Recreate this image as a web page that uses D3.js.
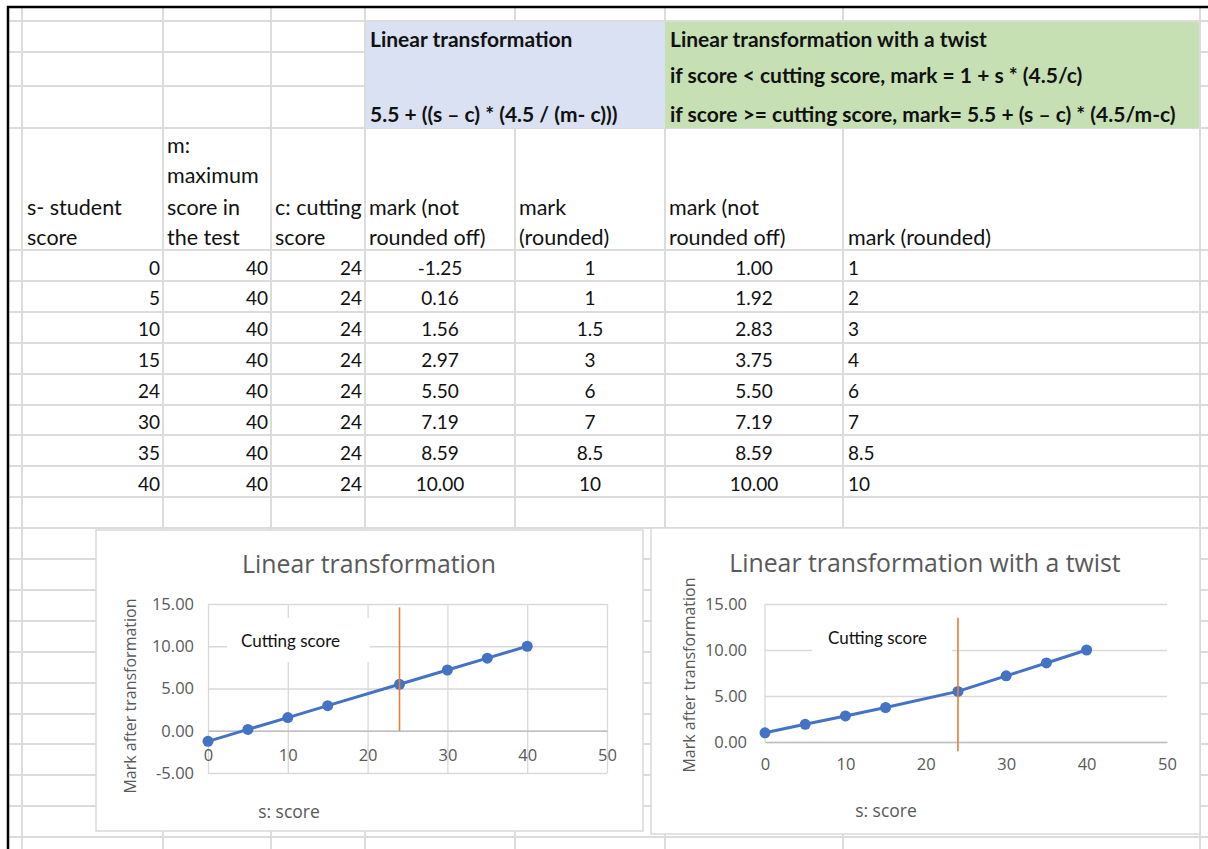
<!DOCTYPE html>
<html>
<head>
<meta charset="utf-8">
<script src="https://cdn.jsdelivr.net/npm/d3@7"></script>
<style>
  body { margin: 0; background: #fff; }
  svg { display: block; }
  .cell { font-family: Lato, "Liberation Sans", sans-serif; font-size: 21.5px; fill: #111; }
  .cell-b { font-weight: bold; font-size: 21px; }
  .cell-n { font-size: 19px; }
  .chart-txt { font-family: "Open Sans", "Noto Sans", sans-serif; fill: #595959; }
</style>
</head>
<body>
<div id="sheet"></div>
<script>
// table data
const scores = [0, 5, 10, 15, 24, 30, 35, 40];
const maxScores = [40, 40, 40, 40, 40, 40, 40, 40];
const cutScores = [24, 24, 24, 24, 24, 24, 24, 24];
const markLinear = [-1.25, 0.16, 1.56, 2.97, 5.50, 7.19, 8.59, 10.00];
const markLinearRounded = ["1", "1", "1.5", "3", "6", "7", "8.5", "10"];
const markTwist = [1.00, 1.92, 2.83, 3.75, 5.50, 7.19, 8.59, 10.00];
const markTwistRounded = ["1", "2", "3", "4", "6", "7", "8.5", "10"];

// chart data
const cutScore = 24;
const cutLine1 = [0, 14.6];
const cutLine2 = [-1, 13.5];
const xTicks = [0, 10, 20, 30, 40, 50];
const yTicks1 = [-5, 0, 5, 10, 15];
const yTicks2 = [0, 5, 10, 15];

const W = 1208, H = 849;
const colX = [8, 22, 163, 271, 365, 515, 665, 843, 1200, 1208];
const rowY = [7, 21, 52, 86, 128, 250];
for (let i = 1; i <= 19; i++) rowY.push(Math.round(250 + i * 30.9));
rowY.push(H);

// excel style numbers: plain hyphen instead of unicode minus
const f2 = v => d3.format(".2f")(v).replace("\u2212", "-");

const svg = d3.select("#sheet").append("svg")
  .attr("width", W)
  .attr("height", H);

svg.append("rect").attr("width", W).attr("height", H).attr("fill", "#fff");

// spreadsheet grid
const grid = svg.append("g").attr("stroke", "#dcdcdc").attr("stroke-width", 2);
grid.selectAll(".vl").data(colX.slice(1, -1)).enter().append("line")
  .attr("x1", d => d).attr("x2", d => d)
  .attr("y1", 7).attr("y2", H);
grid.selectAll(".hl").data(rowY.slice(1, -1)).enter().append("line")
  .attr("x1", 8).attr("x2", W)
  .attr("y1", d => d).attr("y2", d => d);

// header fills
svg.append("rect").attr("x", 366).attr("y", 22).attr("width", 299).attr("height", 106).attr("fill", "#d9e1f2");
svg.append("rect").attr("x", 665).attr("y", 22).attr("width", 534).attr("height", 106).attr("fill", "#c6e0b4");

// black outer border
svg.append("line").attr("x1", 7).attr("x2", W).attr("y1", 7).attr("y2", 7).attr("stroke", "#000").attr("stroke-width", 2.5);
svg.append("line").attr("x1", 8).attr("x2", 8).attr("y1", 6).attr("y2", H).attr("stroke", "#000").attr("stroke-width", 2.5);

function cell(x, y, txt, anchor, cls) {
  svg.append("text")
    .attr("class", "cell" + (cls ? " " + cls : ""))
    .attr("x", x).attr("y", y)
    .attr("dominant-baseline", "central")
    .attr("text-anchor", anchor || "start")
    .text(txt);
}

// header texts
cell(370, 38, "Linear transformation", "start", "cell-b");
cell(370, 113, "5.5 + ((s \u2013 c) * (4.5 / (m- c)))", "start", "cell-b");
cell(670, 38, "Linear transformation with a twist", "start", "cell-b");
cell(670, 74, "if score < cutting score, mark = 1 + s * (4.5/c)", "start", "cell-b");
cell(670, 113, "if score >= cutting score, mark= 5.5 + (s \u2013 c) * (4.5/m-c)", "start", "cell-b");

cell(167, 145, "m:");
cell(167, 175, "maximum");
cell(27, 207, "s- student");
cell(27, 237, "score");
cell(167, 207, "score in");
cell(167, 237, "the test");
cell(275, 207, "c: cutting");
cell(275, 237, "score");
cell(369, 207, "mark (not");
cell(369, 237, "rounded off)");
cell(519, 207, "mark");
cell(519, 237, "(rounded)");
cell(669, 207, "mark (not");
cell(669, 237, "rounded off)");
cell(848, 237, "mark (rounded)");

scores.forEach(function(s, i) {
  let y = 267 + i * 30.9;
  cell(160, y, s, "end", "cell-n");
  cell(268, y, maxScores[i], "end", "cell-n");
  cell(362, y, cutScores[i], "end", "cell-n");
  cell(440, y, f2(markLinear[i]), "middle", "cell-n");
  cell(590, y, markLinearRounded[i], "middle", "cell-n");
  cell(754, y, f2(markTwist[i]), "middle", "cell-n");
  cell(848, y, markTwistRounded[i], "start", "cell-n");
});

// charts
function drawChart(opt) {
  let box = opt.box;
  let g = svg.append("g");
  g.append("rect")
    .attr("x", box[0]).attr("y", box[1])
    .attr("width", box[2] - box[0]).attr("height", box[3] - box[1])
    .attr("fill", "#fff").attr("stroke", "#d9d9d9").attr("stroke-width", 1.5);

  let x = d3.scaleLinear().domain([0, 50]).range(opt.xRange);
  let y = d3.scaleLinear().domain(opt.yDomain).range(opt.yRange);
  let plotW = opt.xRange[1] - opt.xRange[0];

  // horizontal gridlines + y labels
  let ya = g.append("g")
    .attr("transform", "translate(" + opt.xRange[0] + ",0)")
    .call(d3.axisLeft(y).tickValues(opt.yTicks).tickSize(-plotW).tickPadding(opt.yPad).tickFormat(f2));
  ya.select(".domain").remove();
  ya.selectAll("line").attr("stroke", "#d9d9d9").attr("stroke-width", 1.3);
  ya.selectAll("text").attr("class", "chart-txt").style("font-size", "16.5px").attr("fill", "#595959");

  if (opt.vGrid) {
    let vg = g.append("g")
      .attr("transform", "translate(0," + opt.yRange[0] + ")")
      .call(d3.axisBottom(x).tickValues(xTicks).tickSize(-(opt.yRange[0] - opt.yRange[1])).tickFormat(""));
    vg.select(".domain").remove();
    vg.selectAll("line").attr("stroke", "#d9d9d9").attr("stroke-width", 1.3);
  } else {
    g.append("line")
      .attr("x1", x(0)).attr("x2", x(0))
      .attr("y1", opt.yRange[1]).attr("y2", y(0))
      .attr("stroke", "#d9d9d9").attr("stroke-width", 1.3);
  }

  // x labels at y = 0
  let xa = g.append("g")
    .attr("transform", "translate(0," + y(0) + ")")
    .call(d3.axisBottom(x).tickValues(xTicks).tickSize(0).tickPadding(opt.xPad));
  xa.select(".domain").attr("stroke", "#bfbfbf").attr("stroke-width", 1.3);
  xa.selectAll("text").attr("class", "chart-txt").style("font-size", "16.5px").attr("fill", "#595959");

  // cutting score label
  g.append("rect")
    .attr("x", opt.note[0]).attr("y", opt.note[1])
    .attr("width", opt.note[2]).attr("height", opt.note[3])
    .attr("fill", "#fff");
  g.append("text")
    .attr("x", opt.note[0] + opt.note[4]).attr("y", opt.note[1] + opt.note[3] / 2)
    .attr("dominant-baseline", "central")
    .style("font-family", "Lato, sans-serif").style("font-size", "17px").attr("fill", "#111")
    .text("Cutting score");

  // series
  let pts = scores.map((s, i) => [s, opt.values[i]]);
  g.append("path")
    .datum(pts)
    .attr("fill", "none")
    .attr("stroke", "#4472c4")
    .attr("stroke-width", 3)
    .attr("d", d3.line().x(d => x(d[0])).y(d => y(d[1])));
  g.selectAll(".pt").data(pts).enter().append("circle")
    .attr("cx", d => x(d[0])).attr("cy", d => y(d[1]))
    .attr("r", 5.5).attr("fill", "#4472c4");

  // cutting score line
  g.append("line")
    .attr("x1", x(cutScore)).attr("x2", x(cutScore))
    .attr("y1", y(opt.cut[0])).attr("y2", y(opt.cut[1]))
    .attr("stroke", "#ed7d31").attr("stroke-width", 1.6);

  // titles
  g.append("text").attr("class", "chart-txt")
    .attr("x", opt.titlePos[0]).attr("y", opt.titlePos[1])
    .attr("text-anchor", "middle").attr("dominant-baseline", "central")
    .style("font-size", "24.8px")
    .text(opt.title);
  g.append("text").attr("class", "chart-txt")
    .attr("transform", "translate(" + opt.yLabPos[0] + "," + opt.yLabPos[1] + ") rotate(-90)")
    .attr("text-anchor", "middle").attr("dominant-baseline", "central")
    .style("font-size", "16px")
    .text("Mark after transformation");
  g.append("text").attr("class", "chart-txt")
    .attr("x", opt.xLabPos[0]).attr("y", opt.xLabPos[1])
    .attr("text-anchor", "middle").attr("dominant-baseline", "central")
    .style("font-size", "17.5px")
    .text("s: score");
}

drawChart({
  box: [96, 530, 643, 831],
  xRange: [208, 607],
  yDomain: [-5, 15],
  yRange: [773, 604],
  yTicks: yTicks1,
  yPad: 14,
  xPad: 19,
  vGrid: true,
  values: markLinear,
  cut: cutLine1,
  note: [227, 618, 143, 44, 14],
  title: "Linear transformation",
  titlePos: [369, 563],
  yLabPos: [130, 696],
  xLabPos: [289, 811]
});

drawChart({
  box: [651, 528, 1200, 834],
  xRange: [765, 1167],
  yDomain: [0, 15],
  yRange: [742, 604],
  yTicks: yTicks2,
  yPad: 18,
  xPad: 16,
  vGrid: false,
  values: markTwist,
  cut: cutLine2,
  note: [812, 617, 140, 40, 16],
  title: "Linear transformation with a twist",
  titlePos: [925, 562],
  yLabPos: [689, 675],
  xLabPos: [886, 810]
});
</script>
</body>
</html>
